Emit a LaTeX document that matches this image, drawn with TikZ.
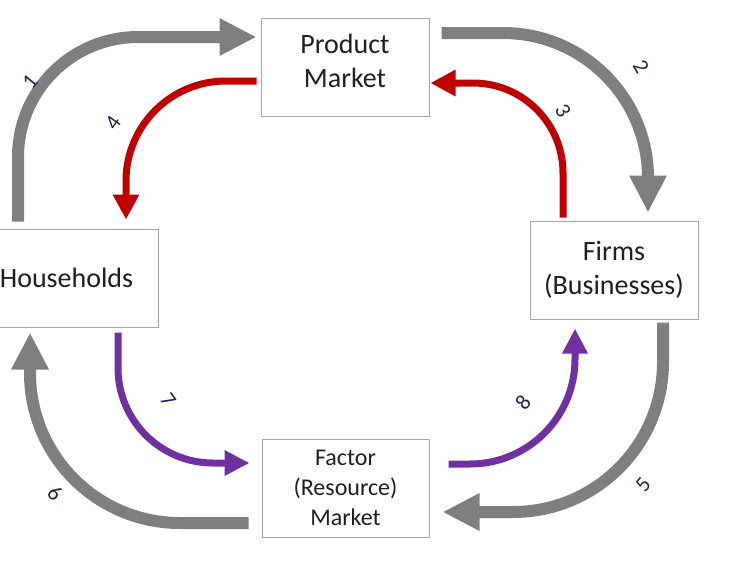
\documentclass[tikz,border=0pt]{standalone}
\usepackage{fontspec}
\setmainfont{Carlito}
\usepackage{xcolor}
\usetikzlibrary{arrows.meta}
\definecolor{flowgray}{RGB}{127,127,127}
\definecolor{flowred}{RGB}{192,0,0}
\definecolor{flowpurple}{RGB}{112,48,160}
\definecolor{boxgray}{RGB}{165,165,165}
\definecolor{numblue}{RGB}{28,40,88}
\tikzstyle{market}=[rectangle, draw=boxgray, fill=white, line width=1pt, minimum
	width=168pt, minimum height=98pt, inner sep=0, align=center, text=black!88,
	font=\fontsize{28}{34}\selectfont]
\tikzstyle{gflow}=[flowgray, line width=12pt, -{Triangle[length=37pt,width=35pt]}]
\tikzstyle{rflow}=[flowred, line width=7pt, -{Triangle[length=25pt,width=25pt]}]
\tikzstyle{pflow}=[flowpurple, line width=7pt, -{Triangle[length=25pt,width=24pt]}]
\tikzstyle{num}=[text=numblue, inner sep=0, font=\fontsize{22}{26}\selectfont]

\begin{document}
\begin{tikzpicture}[x=1pt, y=-1pt]
            \clip (0,0) rectangle (738,563);
            \node[market, text depth=12pt] (pm) at (345,67) {Product\\Market};
            \node[market, minimum width=184pt] (hh) at (66.5,278) {Households};
            \node[market] (fm) at (614,270) {Firms\\(Businesses)};
            \node[market, minimum width=167pt, font=\fontsize{24}{30}\selectfont] (fc)
                at (345.5,488) {Factor\\(Resource)\\Market};
            \draw[gflow, rounded corners=120pt] ([xshift=-48.5pt,yshift=7pt]hh.north)
                |- ([xshift=-4pt,yshift=30pt]pm.west);
            \draw[gflow, rounded corners=145pt] ([xshift=12pt,yshift=34pt]pm.east)
                -| ([xshift=34pt,yshift=8pt]fm.north);
            \draw[rflow, rounded corners=90pt] ([xshift=-51pt,yshift=3pt]fm.north)
                |- ([xshift=1pt,yshift=-16pt]pm.east);
            \draw[rflow, rounded corners=100pt] ([xshift=-4pt,yshift=-14pt]pm.west)
                -| ([xshift=59.5pt,yshift=9pt]hh.north);
            \draw[gflow, rounded corners=150pt] ([xshift=49pt,yshift=-3pt]fm.south)
                |- ([xshift=13pt,yshift=-24pt]fc.east);
            \draw[gflow, rounded corners=150pt] ([xshift=-13pt,yshift=-35pt]fc.west)
                -| ([xshift=-36.5pt,yshift=-5pt]hh.south);
            \draw[pflow, rounded corners=95pt] ([xshift=51.5pt,yshift=-5pt]hh.south)
                |- ([xshift=-12pt,yshift=25pt]fc.west);
            \draw[pflow, rounded corners=105pt] ([xshift=19pt,yshift=24pt]fc.east)
                -| ([xshift=-39pt,yshift=-9pt]fm.south);
            \node[num, rotate=50] (n1) at (30,82) {1};
            \node[num, rotate=-60] (n2) at (641,67) {2};
            \node[num, rotate=-60] (n3) at (563,111) {3};
            \node[num, rotate=55] (n4) at (113,123) {4};
            \node[num, rotate=50] (n5) at (643,485) {5};
            \node[num, rotate=-45] (n6) at (55,493) {6};
            \node[num, rotate=-55] (n7) at (168,400) {7};
            \node[num, rotate=50] (n8) at (523,402) {8};
        \end{tikzpicture}
\end{document}
